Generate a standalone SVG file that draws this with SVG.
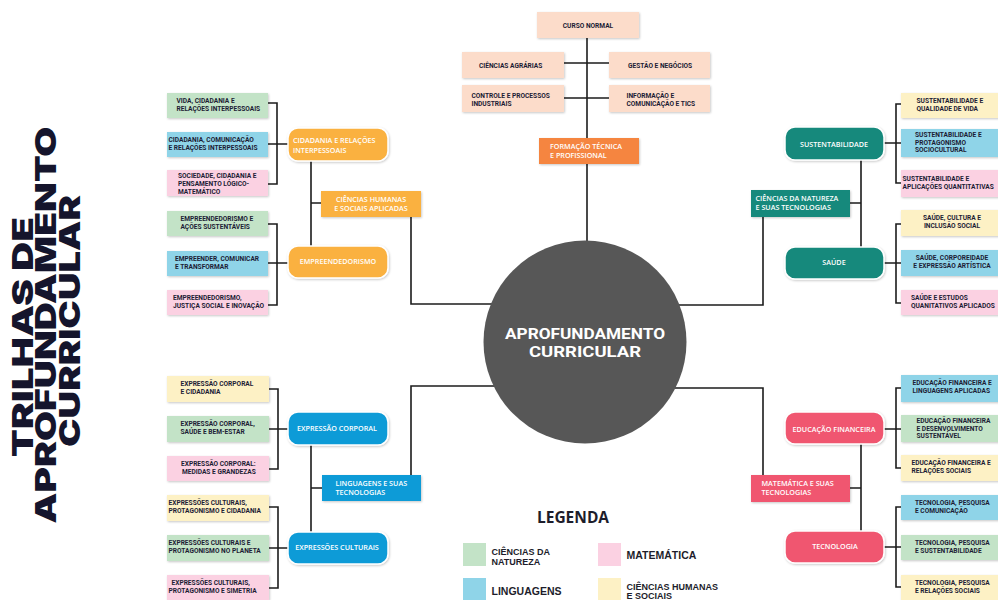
<svg xmlns="http://www.w3.org/2000/svg" width="998" height="600" viewBox="0 0 998 600">
<defs>
<filter id="sh" x="-10%" y="-20%" width="130%" height="150%">
<feDropShadow dx="0.8" dy="1" stdDeviation="0.9" flood-color="#000" flood-opacity="0.22"/>
</filter>
<style>
.s{font-family:Roboto,"Liberation Sans",sans-serif;font-weight:700;font-size:6.6px;fill:#1d1d35}
.n{font-family:"Open Sans",Roboto,"Liberation Sans",sans-serif;font-weight:600;font-size:7.2px;fill:#fff}
.c{font-family:"Open Sans",Roboto,"Liberation Sans",sans-serif;font-weight:600;font-size:7.2px;fill:#fff}
.m{text-anchor:middle}
.g{fill:#c3e3c7}.b{fill:#8fd4e8}.p{fill:#fbd1e2}.y{fill:#fdf1c5}.pe{fill:#fcdcca}
.box{filter:url(#sh)}
.node{filter:url(#sh);stroke:#fff;stroke-width:1.5}
.ln{fill:none;stroke:#1c1c1c;stroke-width:1.6}
.lg{font-family:"Liberation Sans",Roboto,sans-serif;font-weight:700;fill:#1d1d2b}
</style>
</defs>
<rect width="998" height="600" fill="#fff"/>

<!-- Title -->
<g id="title" font-family="Inter,'Liberation Sans',sans-serif" font-weight="900" font-size="29" fill="#15152c" text-anchor="middle">
<text transform="translate(32.5,337) rotate(-90)" textLength="240" lengthAdjust="spacingAndGlyphs">TRILHAS DE</text>
<text transform="translate(55.5,325) rotate(-90)" textLength="397" lengthAdjust="spacingAndGlyphs">APROFUNDAMENTO</text>
<text transform="translate(79.5,321) rotate(-90)" textLength="252" lengthAdjust="spacingAndGlyphs">CURRICULAR</text>
</g>

<!-- Connectors -->
<g id="connectors" class="ln">
<path d="M587,38 V245"/>
<path d="M564,63 H609 M564,98 H609"/>
<path d="M411,217 V304 H495"/>
<path d="M763,217 V305 H675"/>
<path d="M411,475 V386 H495"/>
<path d="M763,475 V388 H675"/>
<path d="M311,161 V246 M311,203 H321"/>
<path d="M311,445 V532 M311,488 H322"/>
<path d="M861,160 V247 M850,203 H861"/>
<path d="M861,444 V531 M850,488 H861"/>
<path d="M268,103 H277 V184 H268 M268,144 H288"/>
<path d="M268,224 H277 V305 H268 M268,263 H288"/>
<path d="M269,389 H278 V469 H269 M269,429 H288"/>
<path d="M269,507 H278 V588 H269 M269,548 H288"/>
<path d="M901,104 H896 V183 H901 M884,143 H901"/>
<path d="M901,224 H896 V303 H901 M884,263 H901"/>
<path d="M901,388 H896 V468 H901 M884,429 H901"/>
<path d="M901,507 H896 V587 H901 M884,547 H901"/>
</g>

<!-- Center -->
<g id="center">
<circle cx="585" cy="342" r="101.5" fill="#575757"/>
<text x="585" y="339" class="m" font-family="Roboto,'Liberation Sans',sans-serif" font-weight="700" font-size="15" fill="#fff" textLength="160" lengthAdjust="spacingAndGlyphs">APROFUNDAMENTO</text>
<text x="585" y="357" class="m" font-family="Roboto,'Liberation Sans',sans-serif" font-weight="700" font-size="15" fill="#fff" textLength="112" lengthAdjust="spacingAndGlyphs">CURRICULAR</text>
</g>

<!-- Formação técnica -->
<g id="curso-normal"><rect class="box pe" x="537" y="12" width="102" height="26"/><text class="s m" x="588" y="27.5">CURSO NORMAL</text></g>
<g id="ciencias-agrarias"><rect class="box pe" x="462" y="52" width="102" height="26"/><text class="s" x="479" y="67.5">CIÊNCIAS AGRÁRIAS</text></g>
<g id="gestao"><rect class="box pe" x="609" y="52" width="101" height="26"/><text class="s" x="628" y="67.5">GESTÃO E NEGÓCIOS</text></g>
<g id="controle"><rect class="box pe" x="462" y="85" width="102" height="27"/><text class="s" x="471.5" y="97.5">CONTROLE E PROCESSOS</text><text class="s" x="471.5" y="105.8">INDUSTRIAIS</text></g>
<g id="informacao"><rect class="box pe" x="609" y="85" width="101" height="27"/><text class="s" x="626.5" y="97.5">INFORMAÇÃO E</text><text class="s" x="626.5" y="105.8">COMUNICAÇÃO E TICS</text></g>
<g id="formacao-tecnica"><rect class="box" x="539" y="138" width="100" height="26" fill="#f5853f"/><text class="c" x="550" y="149.2">FORMAÇÃO TÉCNICA</text><text class="c" x="550" y="157.6">E PROFISSIONAL</text></g>

<!-- Ciências humanas -->
<g id="ciencias-humanas"><rect class="box" x="321" y="191" width="100" height="26" fill="#fab141"/><text class="c m" x="371" y="201.8">CIÊNCIAS HUMANAS</text><text class="c m" x="371" y="210.8">E SOCIAIS APLICADAS</text></g>
<g id="cidadania"><rect class="node" x="288" y="128" width="100" height="33" rx="10" fill="#fab141"/><text class="n" x="293" y="142.5">CIDADANIA E RELAÇÕES</text><text class="n" x="293" y="152.5">INTERPESSOAIS</text></g>
<g id="empreendedorismo"><rect class="node" x="288" y="246" width="100" height="32" rx="10" fill="#fab141"/><text class="n m" x="338" y="264.3">EMPREENDEDORISMO</text></g>
<g id="vida"><rect class="box g" x="167" y="93" width="101" height="25"/><text class="s" x="176.5" y="102.5">VIDA, CIDADANIA E</text><text class="s" x="176.5" y="110.8">RELAÇÕES INTERPESSOAIS</text></g>
<g id="cid-com"><rect class="box b" x="167" y="132" width="101" height="25"/><text class="s" x="168.5" y="141.5">CIDADANIA, COMUNICAÇÃO</text><text class="s" x="168.5" y="149.8">E RELAÇÕES INTERPESSOAIS</text></g>
<g id="sociedade"><rect class="box p" x="167" y="170" width="101" height="26"/><text class="s" x="178" y="177.5">SOCIEDADE, CIDADANIA E</text><text class="s" x="178" y="185.8">PENSAMENTO LÓGICO-</text><text class="s" x="178" y="194">MATEMÁTICO</text></g>
<g id="emp-acoes"><rect class="box g" x="167" y="211" width="101" height="25"/><text class="s" x="180.5" y="220.5">EMPREENDEDORISMO E</text><text class="s" x="180.5" y="228.8">AÇÕES SUSTENTÁVEIS</text></g>
<g id="emp-com"><rect class="box b" x="167" y="251" width="101" height="25"/><text class="s" x="175" y="260.5">EMPREENDER, COMUNICAR</text><text class="s" x="175" y="268.8">E TRANSFORMAR</text></g>
<g id="emp-just"><rect class="box p" x="167" y="290" width="101" height="25"/><text class="s" x="173" y="299.5">EMPREENDEDORISMO,</text><text class="s" x="173" y="307.8">JUSTIÇA SOCIAL E INOVAÇÃO</text></g>

<!-- Linguagens -->
<g id="linguagens"><rect class="box" x="322" y="475" width="99" height="26" fill="#0f9bd7"/><text class="c" x="335.5" y="485.8">LINGUAGENS E SUAS</text><text class="c" x="335.5" y="495.2">TECNOLOGIAS</text></g>
<g id="expr-corporal"><rect class="node" x="288" y="412" width="100" height="33" rx="10" fill="#0f9bd7"/><text class="n m" x="337" y="431">EXPRESSÃO CORPORAL</text></g>
<g id="expr-culturais"><rect class="node" x="288" y="532" width="100" height="32" rx="10" fill="#0f9bd7"/><text class="n m" x="337" y="550.3">EXPRESSÕES CULTURAIS</text></g>
<g id="ec-cid"><rect class="box y" x="167" y="376" width="102" height="26"/><text class="s" x="180.5" y="386">EXPRESSÃO CORPORAL</text><text class="s" x="180.5" y="394.3">E CIDADANIA</text></g>
<g id="ec-saude"><rect class="box g" x="167" y="416" width="102" height="26"/><text class="s" x="180.5" y="426">EXPRESSÃO CORPORAL,</text><text class="s" x="180.5" y="434.3">SAÚDE E BEM-ESTAR</text></g>
<g id="ec-medidas"><rect class="box p" x="167" y="456" width="102" height="25"/><text class="s" x="181" y="465.5">EXPRESSÃO CORPORAL:</text><text class="s" x="182" y="473.8">MEDIDAS E GRANDEZAS</text></g>
<g id="ecu-cid"><rect class="box y" x="167" y="495" width="102" height="26"/><text class="s" x="168.5" y="505">EXPRESSÕES CULTURAIS,</text><text class="s" x="168.5" y="513.3">PROTAGONISMO E CIDADANIA</text></g>
<g id="ecu-plan"><rect class="box g" x="167" y="535" width="102" height="26"/><text class="s" x="168.5" y="545">EXPRESSÕES CULTURAIS E</text><text class="s" x="168.5" y="553.3">PROTAGONISMO NO PLANETA</text></g>
<g id="ecu-sim"><rect class="box p" x="167" y="575" width="102" height="25"/><text class="s" x="171.5" y="584.5">EXPRESSÕES CULTURAIS,</text><text class="s" x="168.5" y="592.8">PROTAGONISMO E SIMETRIA</text></g>

<!-- Ciências da natureza -->
<g id="ciencias-natureza"><rect class="box" x="751" y="190" width="99" height="27" fill="#12897b"/><text class="c" x="755.5" y="200.8">CIÊNCIAS DA NATUREZA</text><text class="c" x="755.5" y="209.8">E SUAS TECNOLOGIAS</text></g>
<g id="sustentabilidade"><rect class="node" x="785" y="127" width="99" height="33" rx="10" fill="#12897b"/><text class="n m" x="834" y="146.8">SUSTENTABILIDADE</text></g>
<g id="saude"><rect class="node" x="785" y="247" width="99" height="32" rx="10" fill="#12897b"/><text class="n m" x="834" y="264.8">SAÚDE</text></g>
<g id="sus-vida"><rect class="box y" x="901" y="93" width="103" height="25"/><text class="s" x="916.5" y="102.5">SUSTENTABILIDADE E</text><text class="s" x="916.5" y="110.8">QUALIDADE DE VIDA</text></g>
<g id="sus-prot"><rect class="box b" x="901" y="129" width="103" height="28"/><text class="s" x="915" y="137.3">SUSTENTABILIDADE E</text><text class="s" x="915" y="144.8">PROTAGONISMO</text><text class="s" x="915" y="152.3">SOCIOCULTURAL</text></g>
<g id="sus-apl"><rect class="box p" x="901" y="170" width="103" height="27"/><text class="s" x="902.5" y="180.5">SUSTENTABILIDADE E</text><text class="s" x="902.5" y="188.8">APLICAÇÕES QUANTITATIVAS</text></g>
<g id="sau-cult"><rect class="box y" x="901" y="210" width="103" height="26"/><text class="s m" x="952" y="219.5">SAÚDE, CULTURA E</text><text class="s m" x="952" y="227.8">INCLUSÃO SOCIAL</text></g>
<g id="sau-corp"><rect class="box b" x="901" y="250" width="103" height="26"/><text class="s m" x="952" y="259.5">SAÚDE, CORPOREIDADE</text><text class="s m" x="952" y="267.8">E EXPRESSÃO ARTÍSTICA</text></g>
<g id="sau-est"><rect class="box p" x="901" y="290" width="103" height="25"/><text class="s" x="911" y="299.5">SAÚDE E ESTUDOS</text><text class="s" x="911" y="307.8">QUANITATIVOS APLICADOS</text></g>

<!-- Matemática -->
<g id="matematica"><rect class="box" x="751" y="475" width="99" height="27" fill="#f0576f"/><text class="c" x="761.5" y="485.8">MATEMÁTICA E SUAS</text><text class="c" x="761.5" y="495.2">TECNOLOGIAS</text></g>
<g id="educacao-financeira"><rect class="node" x="785" y="412" width="99" height="32" rx="10" fill="#f0576f"/><text class="n m" x="834" y="431.8">EDUCAÇÃO FINANCEIRA</text></g>
<g id="tecnologia"><rect class="node" x="785" y="531" width="99" height="32" rx="10" fill="#f0576f"/><text class="n m" x="835" y="549.3">TECNOLOGIA</text></g>
<g id="ef-ling"><rect class="box b" x="901" y="375" width="103" height="27"/><text class="s" x="912.5" y="385">EDUCAÇÃO FINANCEIRA E</text><text class="s" x="912.5" y="393.3">LINGUAGENS APLICADAS</text></g>
<g id="ef-des"><rect class="box g" x="901" y="415" width="103" height="27"/><text class="s" x="916.5" y="423">EDUCAÇÃO FINANCEIRA</text><text class="s" x="916.5" y="430.5">E DESENVOLVIMENTO</text><text class="s" x="916.5" y="438">SUSTENTÁVEL</text></g>
<g id="ef-rel"><rect class="box y" x="901" y="455" width="103" height="26"/><text class="s" x="911.5" y="465">EDUCAÇÃO FINANCEIRA E</text><text class="s" x="911.5" y="473.3">RELAÇÕES SOCIAIS</text></g>
<g id="tec-com"><rect class="box b" x="901" y="495" width="103" height="25"/><text class="s" x="915" y="504.5">TECNOLOGIA, PESQUISA</text><text class="s" x="915" y="512.8">E COMUNICAÇÃO</text></g>
<g id="tec-sus"><rect class="box g" x="901" y="535" width="103" height="25"/><text class="s" x="915" y="544.5">TECNOLOGIA, PESQUISA</text><text class="s" x="915" y="552.8">E SUSTENTABILIDADE</text></g>
<g id="tec-rel"><rect class="box y" x="901" y="575" width="103" height="25"/><text class="s" x="915" y="584.5">TECNOLOGIA, PESQUISA</text><text class="s" x="915" y="592.8">E RELAÇÕES SOCIAIS</text></g>

<!-- Legend -->
<g id="legend">
<text class="m" x="573" y="523" font-family="'Open Sans',Roboto,sans-serif" font-weight="700" font-size="15.5" fill="#1d1d2b">LEGENDA</text>
<rect class="g" x="463" y="543" width="23" height="23"/>
<text class="lg" x="491.5" y="554.5" font-size="9">CIÊNCIAS DA</text>
<text class="lg" x="491.5" y="564.8" font-size="9">NATUREZA</text>
<rect class="b" x="463" y="578" width="23" height="23"/>
<text class="lg" x="491.5" y="594.5" font-size="10.5">LINGUAGENS</text>
<rect class="p" x="598" y="543" width="23" height="23"/>
<text class="lg" x="626.5" y="558.7" font-size="10.5">MATEMÁTICA</text>
<rect class="y" x="598" y="578" width="23" height="23"/>
<text class="lg" x="626.5" y="589.6" font-size="9">CIÊNCIAS HUMANAS</text>
<text class="lg" x="626.5" y="599.4" font-size="9">E SOCIAIS</text>
</g>
</svg>
